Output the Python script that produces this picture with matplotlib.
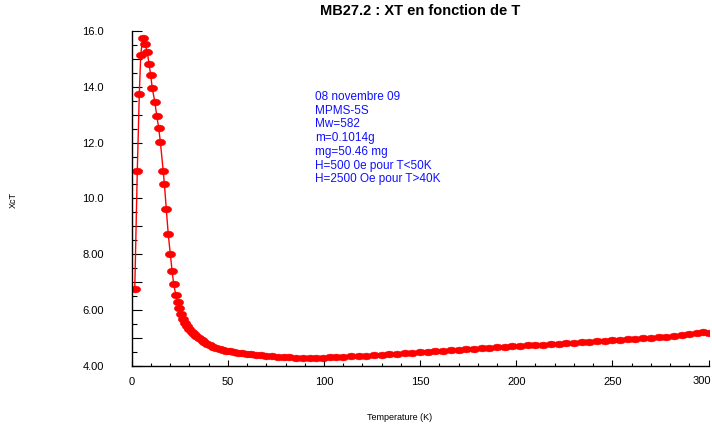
import matplotlib
matplotlib.use("Agg")
import matplotlib.pyplot as plt
from matplotlib.path import Path
from matplotlib.transforms import Affine2D
from matplotlib.ticker import MultipleLocator, FuncFormatter

plt.rcParams['font.family'] = ['Liberation Sans', 'DejaVu Sans']

# Temperature (K)
T_low = [1.6, 2.9, 3.95, 4.7, 5.7, 6.9, 8.1, 9.0, 9.9, 10.7, 12.0, 13.0, 14.0,
         14.9, 16.4, 17.0, 18.0, 19.0, 20.1, 21.0, 21.8, 22.9, 23.9, 24.8]
XT_low = [6.76, 10.97, 13.73, 15.14, 15.74, 15.55, 15.24, 14.83, 14.41, 13.94,
          13.47, 12.97, 12.54, 12.03, 10.97, 10.52, 9.61, 8.72, 7.99, 7.41,
          6.94, 6.54, 6.30, 6.07]

T_high = [25.8, 26.8, 27.8, 28.9, 30.0, 31.2, 32.4, 33.7, 35.0, 36.4, 37.8, 39.3,
          40.8, 42.4, 44.0, 45.7, 47.5, 49.3, 51.2, 53.2, 55.3, 57.5, 59.8, 62.2,
          64.7, 67.3, 70.0, 73.0, 76.0, 79.0, 82.0, 85.5, 89.0, 92.5, 96.0, 99.5,
          103, 106.5, 110, 114, 118, 122, 126, 130, 134, 138, 142, 146, 150, 154,
          158, 162, 166, 170, 174, 178, 182, 186, 190, 194, 198, 202, 206, 210,
          214, 218, 222, 226, 230, 234, 238, 242, 246, 250, 254, 258, 262, 266,
          270, 274, 278, 282, 286, 290, 294, 297, 300]
XT_high = [5.85, 5.67, 5.53, 5.41, 5.31, 5.21, 5.13, 5.05, 4.98, 4.91, 4.84, 4.78,
           4.73, 4.68, 4.64, 4.60, 4.57, 4.54, 4.51, 4.49, 4.47, 4.45, 4.43, 4.41,
           4.39, 4.37, 4.35, 4.335, 4.32, 4.31, 4.30, 4.29, 4.285, 4.285, 4.285, 4.29,
           4.30, 4.31, 4.32, 4.335, 4.35, 4.365, 4.38, 4.40, 4.415, 4.43, 4.45, 4.47,
           4.49, 4.505, 4.52, 4.54, 4.555, 4.57, 4.59, 4.61, 4.625, 4.64, 4.66, 4.675,
           4.69, 4.71, 4.725, 4.74, 4.76, 4.78, 4.795, 4.81, 4.83, 4.845, 4.86, 4.88,
           4.895, 4.91, 4.93, 4.945, 4.96, 4.98, 5.00, 5.02, 5.04, 5.06, 5.09, 5.12,
           5.16, 5.20, 5.17]

T = T_low + T_high
XT = XT_low + XT_high

info_lines = ["08 novembre 09", "MPMS-5S", "Mw=582", "m=0.1014g", "mg=50.46 mg",
              "H=500 0e pour T<50K", "H=2500 Oe pour T>40K"]

fig = plt.figure(figsize=(7.12, 4.30), dpi=100)
ax = fig.add_axes([131.7 / 712, (430 - 365.7) / 430, (708.5 - 131.7) / 712, (365.7 - 31) / 430])

ellipse = Path.unit_circle().transformed(Affine2D().scale(1.0, 0.66))
ax.plot(T, XT, color='red', lw=1.0, marker=ellipse, markersize=7.5,
        markerfacecolor='red', markeredgecolor='red', markeredgewidth=0.3)

ax.set_xlim(0, 300)
ax.set_ylim(4, 16)
for s in ['top', 'right']:
    ax.spines[s].set_visible(False)
for s in ['left', 'bottom']:
    ax.spines[s].set_linewidth(1.0)

ax.xaxis.set_major_locator(MultipleLocator(50))
ax.xaxis.set_minor_locator(MultipleLocator(10))
ax.yaxis.set_major_locator(MultipleLocator(1))
ax.yaxis.set_minor_locator(MultipleLocator(0.5))

def xfmt(v, pos):
    return '' if v >= 299 else f"{v:.0f}"
ax.xaxis.set_major_formatter(FuncFormatter(xfmt))

def yfmt(v, pos):
    if abs(round(v) % 2) == 1:
        return ''
    return f"{v:.1f}" if v >= 10 else f"{v:.2f}"
ax.yaxis.set_major_formatter(FuncFormatter(yfmt))

ax.tick_params(axis='x', which='major', direction='in', length=4.5, width=0.8,
               labelsize=8, pad=8)
ax.tick_params(axis='x', which='minor', direction='in', length=2.3, width=0.8)
ax.tick_params(axis='y', which='major', direction='in', length=7, width=0.8,
               labelsize=8, pad=20)
ax.tick_params(axis='y', which='minor', direction='in', length=3.6, width=0.8)

# last x tick label, nudged left as in the original so it fits the frame
fig.text(702 / 712, 1 - 381 / 430, "300", fontsize=8, ha='center', va='center')

ax.set_title("MB27.2 : XT en fonction de T", fontsize=10.5, fontweight='bold', pad=11.5)

fig.text(400 / 712, 1 - 417 / 430, "Temperature (K)", fontsize=6.5, ha='center', va='center')
fig.text(13 / 712, 1 - 200 / 430, "XcT", fontsize=6.5, rotation=90, ha='center', va='center')

fig.text(315 / 712, 1 - 91 / 430, "\n".join(info_lines), fontsize=8.5, color='#1010ff',
         ha='left', va='top', linespacing=1.19)

fig.savefig("out.png", dpi=100)
